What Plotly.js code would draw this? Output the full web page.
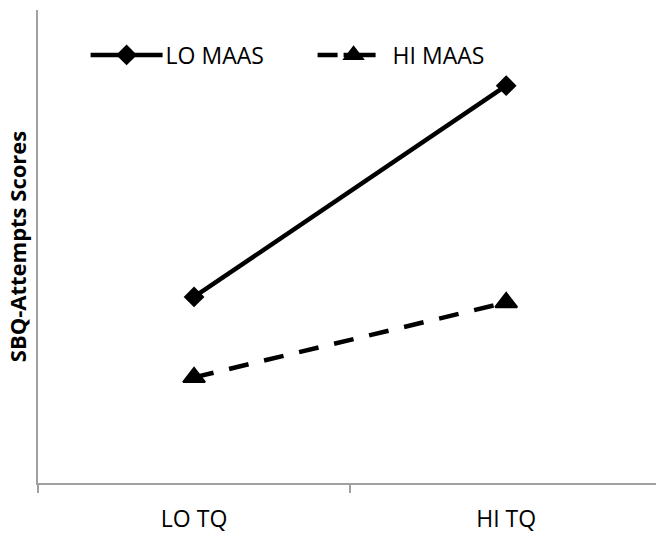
<!DOCTYPE html>
<html>
<head>
<meta charset="utf-8">
<script src="https://cdn.plot.ly/plotly-3.0.1.min.js"></script>
<style>
  html, body { margin: 0; padding: 0; background: #ffffff; }
  #chart { width: 656px; height: 533px; }
</style>
</head>
<body>
<div id="chart"></div>
<script>
// Interaction plot: SBQ-Attempts scores by TQ level, split by MAAS group
const tqLevels = ["LO TQ", "HI TQ"];
const loMaas = [2.36, 5.04];
const hiMaas = [1.34, 2.29];
const seriesNames = ["LO MAAS", "HI MAAS"];
const yTitle = "SBQ-Attempts Scores";

const FONT = "Open Sans, Liberation Sans, sans-serif";
const AXIS_GREY = "#a0a0a0";

// legend sample geometry: a long line with the marker near its middle
const SAMPLE_LEN = [72, 58];
const SAMPLE_DASH = ["none", "20,6,200"];
const MARKER_AT = 41;
const ITEM_WIDTH = 70;

const traces = [
  {
    x: tqLevels,
    y: loMaas,
    name: seriesNames[0],
    type: "scatter",
    mode: "lines+markers",
    line: { color: "#000000", width: 4.5 },
    marker: { symbol: "diamond", size: 16, color: "#000000" }
  },
  {
    x: tqLevels,
    y: hiMaas,
    name: seriesNames[1],
    type: "scatter",
    mode: "lines+markers",
    line: { color: "#000000", width: 4.5, dash: "20px,16px" },
    marker: { symbol: "triangle-up", size: 19, color: "#000000",
              line: { color: "#000000", width: 2 } }
  }
];

const layout = {
  width: 656,
  height: 533,
  margin: { l: 38, r: 0, t: 10, b: 50 },
  paper_bgcolor: "#ffffff",
  plot_bgcolor: "#ffffff",
  font: { family: FONT, color: "#000000", size: 23 },
  showlegend: true,
  legend: {
    orientation: "h",
    x: 0.077, xanchor: "left",
    y: 0.905, yanchor: "middle",
    font: { family: FONT, size: 23, color: "#000000" },
    entrywidth: 142,
    itemwidth: ITEM_WIDTH,
    bgcolor: "rgba(0,0,0,0)"
  },
  xaxis: {
    type: "category",
    range: [-0.5, 1.48],
    showgrid: false,
    zeroline: false,
    showline: true,
    linecolor: AXIS_GREY,
    linewidth: 2,
    ticks: "outside",
    tickson: "boundaries",
    ticklen: 8,
    tickwidth: 2,
    tickcolor: AXIS_GREY,
    ticklabelstandoff: 14,
    tickfont: { family: FONT, size: 23, color: "#000000" },
    fixedrange: true
  },
  yaxis: {
    range: [0, 6],
    showgrid: false,
    zeroline: false,
    showline: true,
    linecolor: AXIS_GREY,
    linewidth: 2,
    ticks: "",
    showticklabels: false,
    title: { text: yTitle, font: { family: FONT, size: 22, color: "#000000", weight: "bold" }, standoff: 3 },
    fixedrange: true
  }
};

Plotly.newPlot("chart", traces, layout, { displayModeBar: false, staticPlot: true }).then(function (gd) {
  // stretch each legend sample line and place its marker on it
  gd.querySelectorAll(".legend .traces").forEach(function (item, i) {
    const line = item.querySelector(".legendlines path");
    if (line) {
      line.setAttribute("d", "M5,0h" + SAMPLE_LEN[i]);
      line.style.strokeDasharray = SAMPLE_DASH[i];
    }
    item.querySelectorAll(".legendpoints path.scatterpts").forEach(function (p) {
      p.setAttribute("transform", "translate(" + MARKER_AT + ",0)");
    });
  });
});
</script>
</body>
</html>
